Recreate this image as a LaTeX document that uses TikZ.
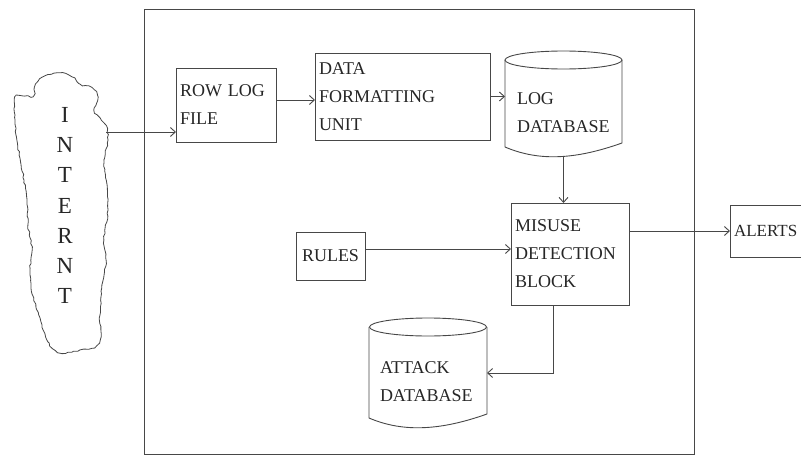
\documentclass[tikz,border=0pt]{standalone}
\usepackage{fontspec}
\setmainfont{Liberation Serif}
\usetikzlibrary{calc,arrows.meta,decorations.pathmorphing}
\definecolor{linecol}{gray}{0.28}
\definecolor{txtcol}{gray}{0.15}
\tikzset{
  wire/.style={draw=linecol, line width=0.9pt},
  box/.style={wire, inner xsep=4pt, inner ysep=0pt, outer sep=0pt, align=left,
    anchor=north west, text=txtcol, font=\fontsize{18}{28}\selectfont},
  dbase/.style={box, draw=none, inner xsep=12pt},
}
\begin{document}
\begin{tikzpicture}[x=1pt, y=-1pt, >={Straight Barb[length=5pt, width=9pt]}]
\useasboundingbox (0,0) rectangle (801,455);
\clip (0,0) rectangle (801,455);

% ===== system frame =====
\draw[wire] (144,9) rectangle (694,454);

% ===== internet cloud =====
\pgfmathsetseed{7}
\draw[wire, line width=0.8pt, decorate,
  decoration={random steps, segment length=3pt, amplitude=0.7pt}]
  plot[smooth cycle, tension=0.6] coordinates {
  (15,97) (25,96) (33,96) (36,84) (45,76) (60,73) (72,77) (80,84) (92,88)
  (98,97) (94,110) (100,118) (106,126) (108,140) (104,160) (107,185)
  (108,210) (104,240) (106,260) (102,285) (100,315) (99,343) (80,350)
  (60,353) (48,342) (40,318) (33,296) (30,272) (32,250) (28,225)
  (27,200) (24,180) (20,158) (16,135) (15,115)};
\coordinate (net) at (106,132);
\foreach \ch [count=\i] in {I,N,T,E,R,N,T}
  \node[text=txtcol, font=\fontsize{23}{23}\selectfont] (ch\i) at (65,{115+30.2*(\i-1)}) {\ch};

% ===== blocks =====
\node[box, text width=92pt, minimum height=74pt] (row) at (176,68) {ROW LOG\\FILE};
\node[box, text width=167pt, minimum height=87pt] (data) at (315,53) {DATA\\FORMATTING\\UNIT};
\node[dbase, text width=93pt, minimum height=88pt] (logdb) at (505,69) {LOG\\DATABASE};
\node[box, text width=110pt, minimum height=102pt] (misuse) at (511,203) {MISUSE\\DETECTION\\BLOCK};
\node[box, align=center, minimum width=69pt, minimum height=48pt] (rules) at (296,232) {RULES};
\node[box, inner xsep=4pt, text width=80pt, minimum height=52pt,
  font=\fontsize{17}{28}\selectfont] (alerts) at (730,205) {ALERTS};
\node[dbase, inner xsep=11pt, text width=96pt, minimum height=92pt] (attackdb) at (369,336) {ATTACK\\DATABASE};

% ===== database outlines =====
\foreach \db in {logdb,attackdb} {
  \draw[wire] ($(\db.north west)+(0,-9)$) -- ($(\db.south west)+(0,-10)$)
    .. controls ($(\db.south west)+(35,5)$) and ($(\db.south east)+(-45,2)$) .. ($(\db.south east)+(0,-14)$)
    -- ($(\db.north east)+(0,-9)$);
  \draw[wire] ($(\db.north)+(0,-9)$) ellipse [x radius=58.5pt, y radius=9pt];
}

% ===== connectors =====
\draw[wire,->] (net) -- (net -| row.west);
\draw[wire,->] ([yshift=5pt]row.east) -- ([yshift=5pt]row.east -| data.west);
\draw[wire,->] (data.east) -- (data.east -| logdb.west);
\draw[wire,->] (logdb.south) -- (logdb.south |- misuse.north);
\draw[wire,->] ([yshift=7pt]rules.east) -- ([yshift=7pt]rules.east -| misuse.west);
\draw[wire,->] (misuse.east |- alerts.west) -- (alerts.west);
\draw[wire,->] ([xshift=-17pt]misuse.south) |- ([yshift=9pt]attackdb.east);
\end{tikzpicture}
\end{document}
